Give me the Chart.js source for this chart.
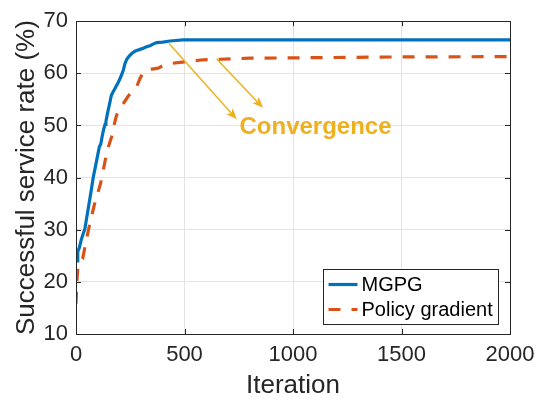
<!DOCTYPE html>
<html>
<head>
<meta charset="utf-8">
<script src="https://cdn.jsdelivr.net/npm/chart.js@4/dist/chart.umd.min.js"></script>
<style>
html,body{margin:0;padding:0;background:#fff;}
#wrap{width:545px;height:401px;}
</style>
</head>
<body>
<div id="wrap"><canvas id="c" width="545" height="401"></canvas></div>
<script>
// ---- data ----
const mgpgIter = [0,2,5,8,15,25,41,50,60,70,80,90,100,108,114,120,127,134,138,146,154,163,172,182,195,205,218,225,234,245,257,270,280,295,310,325,341,355,372,400,433,460,493,700,1000,1500,2000];
const mgpgRate = [24.2,26.0,24.0,25.8,26.5,28.2,30.2,32.5,35.0,37.5,40.2,42.2,44.3,46.0,46.4,47.8,49.2,50.2,50.8,52.5,54.0,55.8,56.5,57.3,58.3,59.2,60.6,61.8,62.7,63.3,63.8,64.2,64.4,64.6,64.8,65.1,65.3,65.6,65.9,66.0,66.2,66.3,66.4,66.4,66.4,66.4,66.4];
const pgIter = [0,4,8,18,31,45,55,68,80,90,100,114,126,138,150,164,175,187,200,218,240,260,280,295,310,330,350,379,402,440,479,520,585,664,800,1092,1500,2000];
const pgRate = [15.8,20.0,22.5,23.8,24.5,27.5,29.5,32.0,34.0,35.7,37.0,39.0,41.5,44.0,46.0,47.8,50.0,52.0,53.0,54.2,55.6,56.5,57.5,59.0,60.2,60.6,60.8,61.0,61.5,61.9,62.1,62.3,62.6,62.7,62.9,63.0,63.15,63.2];
const seriesNames = ['MGPG', 'Policy gradient'];
const xTicks = [0,500,1000,1500,2000];
const yTicks = [10,20,30,40,50,60,70];
const xLabel = 'Iteration';
const yLabel = 'Successful service rate (%)';
// annotation (data coordinates)
const arrowStarts = [[428.6,65.73],[647.5,62.8]];
const arrowEnds = [[740.6,51.19],[861.8,53.39]];
const noteText = 'Convergence';
const notePos = [1103.7,48.3];

const FONT = '"Liberation Sans", Arial, Helvetica, sans-serif';
const AX = '#262626';
const GOLD = '#EDB120';

function toXY(xs, ys){ return xs.map((x,i)=>({x:x,y:ys[i]})); }

const boxPlugin = {
  id:'box',
  afterDraw(chart){
    const ctx = chart.ctx, a = chart.chartArea;
    const xs = chart.scales.x, ys = chart.scales.y;
    ctx.save();
    ctx.strokeStyle = AX; ctx.lineWidth = 1;
    ctx.beginPath();
    const L = 5;
    xTicks.forEach(v=>{
      const p = Math.round(xs.getPixelForValue(v))+0.5;
      ctx.moveTo(p,a.bottom); ctx.lineTo(p,a.bottom-L);
      ctx.moveTo(p,a.top); ctx.lineTo(p,a.top+L);
    });
    yTicks.forEach(v=>{
      const p = Math.round(ys.getPixelForValue(v))+0.5;
      ctx.moveTo(a.left,p); ctx.lineTo(a.left+L,p);
      ctx.moveTo(a.right,p); ctx.lineTo(a.right-L,p);
    });
    ctx.stroke();
    ctx.strokeRect(Math.round(a.left)+0.5, Math.round(a.top)+0.5, Math.round(a.right-a.left), Math.round(a.bottom-a.top));
    ctx.restore();
  }
};

const annotPlugin = {
  id:'annot',
  afterDatasetsDraw(chart){
    const ctx = chart.ctx, xs = chart.scales.x, ys = chart.scales.y;
    ctx.save();
    ctx.strokeStyle = GOLD; ctx.fillStyle = GOLD; ctx.lineWidth = 1.5;
    arrowStarts.forEach((s,i)=>{
      const e = arrowEnds[i];
      const x1 = xs.getPixelForValue(s[0]), y1 = ys.getPixelForValue(s[1]);
      const x2 = xs.getPixelForValue(e[0]), y2 = ys.getPixelForValue(e[1]);
      const ang = Math.atan2(y2-y1, x2-x1);
      const hl = 11, hw = 4.5, back = 3;
      const bx = x2 - hl*Math.cos(ang), by = y2 - hl*Math.sin(ang);
      ctx.beginPath(); ctx.moveTo(x1,y1); ctx.lineTo(bx + back*Math.cos(ang), by + back*Math.sin(ang)); ctx.stroke();
      const nx = -Math.sin(ang), ny = Math.cos(ang);
      ctx.beginPath();
      ctx.moveTo(x2,y2);
      ctx.lineTo(bx + hw*nx, by + hw*ny);
      ctx.lineTo(bx + back*Math.cos(ang), by + back*Math.sin(ang));
      ctx.lineTo(bx - hw*nx, by - hw*ny);
      ctx.closePath(); ctx.fill();
    });
    ctx.font = 'bold 24px ' + FONT;
    ctx.textAlign = 'center'; ctx.textBaseline = 'alphabetic';
    ctx.fillText(noteText, xs.getPixelForValue(notePos[0]), ys.getPixelForValue(notePos[1]));
    ctx.restore();
  },
  afterDraw(chart){
    // legend box inside plot, styles from datasets
    const ctx = chart.ctx, a = chart.chartArea;
    const bx = 323.5, by = 269.5, bw = 175, bh = 55;
    ctx.save();
    ctx.fillStyle = '#fff'; ctx.fillRect(bx,by,bw,bh);
    ctx.strokeStyle = AX; ctx.lineWidth = 1; ctx.strokeRect(bx,by,bw,bh);
    ctx.font = '20px ' + FONT; ctx.textBaseline = 'middle'; ctx.textAlign = 'left';
    chart.data.datasets.forEach((ds,i)=>{
      const y = by + 15 + i*25;
      ctx.strokeStyle = ds.borderColor; ctx.lineWidth = ds.borderWidth;
      ctx.setLineDash(ds.borderDash || []);
      ctx.beginPath(); ctx.moveTo(bx+5, y); ctx.lineTo(bx+34, y); ctx.stroke();
      ctx.setLineDash([]);
      ctx.fillStyle = '#000';
      ctx.fillText(ds.label, bx+38, y+1);
    });
    ctx.restore();
  }
};

new Chart(document.getElementById('c'), {
  type:'line',
  data:{
    datasets:[
      {label:seriesNames[0], data:toXY(mgpgIter,mgpgRate), borderColor:'#0072BD', borderWidth:3.2, pointRadius:0, tension:0, fill:false},
      {label:seriesNames[1], data:toXY(pgIter,pgRate), borderColor:'#D95319', borderWidth:3.2, borderDash:[12,11], pointRadius:0, tension:0, fill:false}
    ]
  },
  options:{
    responsive:false, animation:false, devicePixelRatio:1,
    layout:{padding:{left:0, top:15, right:35, bottom:0}},
    plugins:{legend:{display:false}, tooltip:{enabled:false}},
    scales:{
      x:{type:'linear', min:0, max:2000,
         afterFit(s){ s.height = 67; },
         afterBuildTicks(s){ s.ticks = xTicks.map(v=>({value:v})); },
         ticks:{font:{family:FONT,size:22}, color:AX, padding:8, maxRotation:0, callback:(v)=>String(v)},
         grid:{color:'#e3e3e3', lineWidth:1, drawTicks:false},
         border:{display:false},
         title:{display:true, text:xLabel, font:{family:FONT,size:26}, color:AX, padding:{top:0,bottom:0}}
      },
      y:{type:'linear', min:10, max:70,
         afterFit(s){ s.width = 76; },
         afterBuildTicks(s){ s.ticks = yTicks.map(v=>({value:v})); },
         ticks:{font:{family:FONT,size:22}, color:AX, padding:8, callback:(v)=>String(v)},
         grid:{color:'#e3e3e3', lineWidth:1, drawTicks:false},
         border:{display:false},
         title:{display:true, text:yLabel, font:{family:FONT,size:26}, color:AX, padding:{top:11,bottom:0}}
      }
    }
  },
  plugins:[boxPlugin, annotPlugin]
});
</script>
</body>
</html>
